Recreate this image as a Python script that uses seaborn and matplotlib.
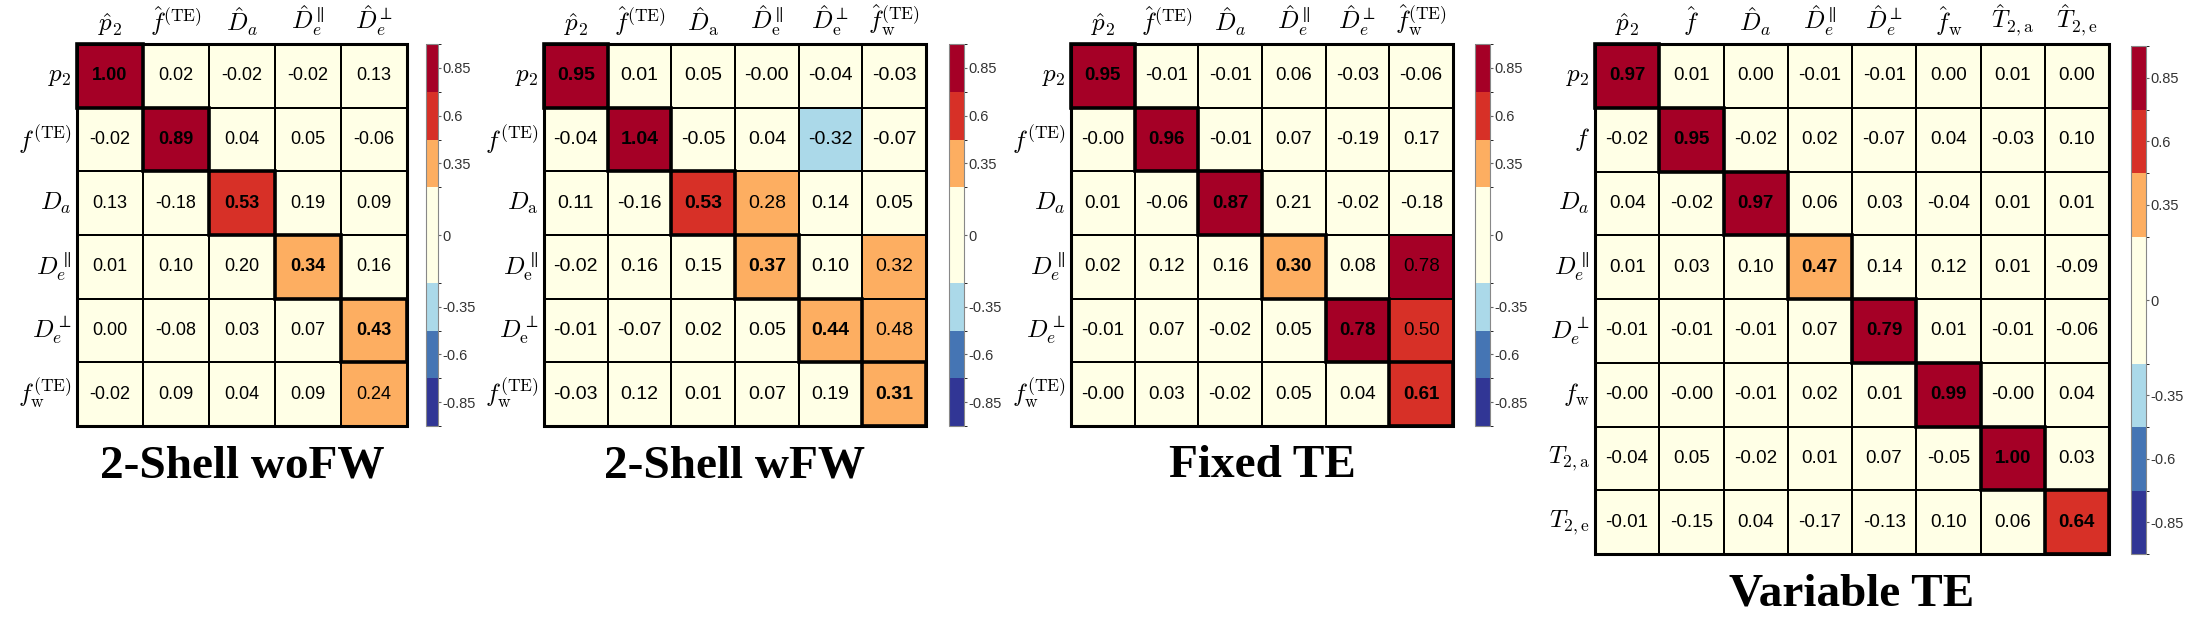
import numpy as np
import pandas as pd
import matplotlib
matplotlib.use("Agg")
import matplotlib.pyplot as plt
from matplotlib.colors import ListedColormap, BoundaryNorm
from matplotlib.patches import Rectangle
import seaborn as sns

# ---------------- data ----------------
titles = ["2-Shell woFW", "2-Shell wFW", "Fixed TE", "Variable TE"]

woFW_rows = [r"$p_2$", r"$f^{(\mathrm{TE})}$", r"$D_a$", r"$D_e^{\parallel}$",
             r"$D_e^{\perp}$", r"$f_\mathrm{w}^{(\mathrm{TE})}$"]
woFW_cols = [r"$\hat{p}_2$", r"$\hat{f}^{(\mathrm{TE})}$", r"$\hat{D}_a$",
             r"$\hat{D}_e^{\parallel}$", r"$\hat{D}_e^{\perp}$"]
woFW_vals = [
    [1.00, 0.02, -0.02, -0.02, 0.13],
    [-0.02, 0.89, 0.04, 0.05, -0.06],
    [0.13, -0.18, 0.53, 0.19, 0.09],
    [0.01, 0.10, 0.20, 0.34, 0.16],
    [0.00, -0.08, 0.03, 0.07, 0.43],
    [-0.02, 0.09, 0.04, 0.09, 0.24],
]

wFW_rows = [r"$p_2$", r"$f^{(\mathrm{TE})}$", r"$D_\mathrm{a}$", r"$D_\mathrm{e}^{\parallel}$",
            r"$D_\mathrm{e}^{\perp}$", r"$f_\mathrm{w}^{(\mathrm{TE})}$"]
wFW_cols = [r"$\hat{p}_2$", r"$\hat{f}^{(\mathrm{TE})}$", r"$\hat{D}_\mathrm{a}$",
            r"$\hat{D}_\mathrm{e}^{\parallel}$", r"$\hat{D}_\mathrm{e}^{\perp}$",
            r"$\hat{f}_\mathrm{w}^{(\mathrm{TE})}$"]
wFW_vals = [
    [0.95, 0.01, 0.05, -0.00, -0.04, -0.03],
    [-0.04, 1.04, -0.05, 0.04, -0.32, -0.07],
    [0.11, -0.16, 0.53, 0.28, 0.14, 0.05],
    [-0.02, 0.16, 0.15, 0.37, 0.10, 0.32],
    [-0.01, -0.07, 0.02, 0.05, 0.44, 0.48],
    [-0.03, 0.12, 0.01, 0.07, 0.19, 0.31],
]

fixed_rows = [r"$p_2$", r"$f^{(\mathrm{TE})}$", r"$D_a$", r"$D_e^{\parallel}$",
              r"$D_e^{\perp}$", r"$f_\mathrm{w}^{(\mathrm{TE})}$"]
fixed_cols = [r"$\hat{p}_2$", r"$\hat{f}^{(\mathrm{TE})}$", r"$\hat{D}_a$",
              r"$\hat{D}_e^{\parallel}$", r"$\hat{D}_e^{\perp}$",
              r"$\hat{f}_\mathrm{w}^{(\mathrm{TE})}$"]
fixed_vals = [
    [0.95, -0.01, -0.01, 0.06, -0.03, -0.06],
    [-0.00, 0.96, -0.01, 0.07, -0.19, 0.17],
    [0.01, -0.06, 0.87, 0.21, -0.02, -0.18],
    [0.02, 0.12, 0.16, 0.30, 0.08, 0.78],
    [-0.01, 0.07, -0.02, 0.05, 0.78, 0.50],
    [-0.00, 0.03, -0.02, 0.05, 0.04, 0.61],
]

var_rows = [r"$p_2$", r"$f$", r"$D_a$", r"$D_e^{\parallel}$", r"$D_e^{\perp}$",
            r"$f_\mathrm{w}$", r"$T_{2,\mathrm{a}}$", r"$T_{2,\mathrm{e}}$"]
var_cols = [r"$\hat{p}_2$", r"$\hat{f}$", r"$\hat{D}_a$", r"$\hat{D}_e^{\parallel}$",
            r"$\hat{D}_e^{\perp}$", r"$\hat{f}_\mathrm{w}$", r"$\hat{T}_{2,\mathrm{a}}$",
            r"$\hat{T}_{2,\mathrm{e}}$"]
var_vals = [
    [0.97, 0.01, 0.00, -0.01, -0.01, 0.00, 0.01, 0.00],
    [-0.02, 0.95, -0.02, 0.02, -0.07, 0.04, -0.03, 0.10],
    [0.04, -0.02, 0.97, 0.06, 0.03, -0.04, 0.01, 0.01],
    [0.01, 0.03, 0.10, 0.47, 0.14, 0.12, 0.01, -0.09],
    [-0.01, -0.01, -0.01, 0.07, 0.79, 0.01, -0.01, -0.06],
    [-0.00, -0.00, -0.01, 0.02, 0.01, 0.99, -0.00, 0.04],
    [-0.04, 0.05, -0.02, 0.01, 0.07, -0.05, 1.00, 0.03],
    [-0.01, -0.15, 0.04, -0.17, -0.13, 0.10, 0.06, 0.64],
]

cbar_tick_labels = ["-0.85", "-0.6", "-0.35", "0", "0.35", "0.6", "0.85"]

# ---------------- style ----------------
bin_edges = [-1.1, -0.75, -0.5, -0.235, 0.0, 0.235, 0.49, 0.75, 1.1]
bin_colors = ["#313695", "#4575B4", "#ABD9E9", "#FFFFE6", "#FFFFE6",
              "#FDAE61", "#D73027", "#A50026"]
cmap = ListedColormap(bin_colors)
norm = BoundaryNorm(bin_edges, cmap.N)
mids = [(bin_edges[i] + bin_edges[i + 1]) / 2 for i in range(len(bin_edges) - 1)]
cbar_ticks = mids[:3] + [bin_edges[4]] + mids[5:]

plt.rcParams["font.family"] = ["Liberation Sans", "DejaVu Sans"]
plt.rcParams["mathtext.fontset"] = "cm"

W, H = 2185, 621
fig = plt.figure(figsize=(W / 100, H / 100), dpi=100)


def box(x0, y0, x1, y1):
    return [x0 / W, 1 - y1 / H, (x1 - x0) / W, (y1 - y0) / H]


panels = [
    (titles[0], woFW_rows, woFW_cols, woFW_vals, (77, 44, 407, 426), (426, 44, 438, 426), 13),
    (titles[1], wFW_rows, wFW_cols, wFW_vals, (544, 44, 926, 426), (949, 44, 964, 426), 14),
    (titles[2], fixed_rows, fixed_cols, fixed_vals, (1071, 44, 1453, 426), (1475, 44, 1490, 426), 13.5),
    (titles[3], var_rows, var_cols, var_vals, (1595, 44, 2109, 554), (2131, 46, 2146, 554), 13.5),
]

for title, rows, cols, vals, gbox, cbox, fs in panels:
    ax = fig.add_axes(box(*gbox))
    cax = fig.add_axes(box(*cbox))
    df = pd.DataFrame(np.array(vals, dtype=float), index=rows, columns=cols)
    sns.heatmap(df, ax=ax, cbar_ax=cax, cmap=cmap, norm=norm, annot=True, fmt=".2f",
                annot_kws={"color": "black", "fontsize": fs, "family": "Liberation Sans"},
                linewidths=1.4, linecolor="black", square=False)
    nr, nc = df.shape
    for t in ax.texts:
        x, y = t.get_position()
        if int(x) == int(y):
            t.set_fontweight("bold")
    for i in range(min(nr, nc)):
        ax.add_patch(Rectangle((i, i), 1, 1, fill=False, ec="black", lw=2.6,
                               clip_on=False, zorder=5))
    ax.add_patch(Rectangle((0, 0), nc, nr, fill=False, ec="black", lw=2.2,
                           clip_on=False, zorder=4))
    ax.xaxis.tick_top()
    ax.set_xticklabels(cols, rotation=0, fontsize=18)
    ax.set_yticklabels(rows, rotation=0, fontsize=18)
    ax.tick_params(axis="both", length=0, pad=4)
    ax.set_xlabel("")
    ax.set_ylabel("")

    cb = ax.collections[0].colorbar
    cb.outline.set_linewidth(0.8)
    cb.outline.set_edgecolor("#888888")
    cb.set_ticks(cbar_ticks)
    cb.set_ticklabels(cbar_tick_labels)
    cax.tick_params(length=2.5, width=0.8, color="#666666", labelsize=10.5,
                    labelcolor="#333333", pad=0.5)

    cx = (gbox[0] + gbox[2]) / 2
    fig.text(cx / W, 1 - (gbox[3] + 51) / H, title, ha="center", va="baseline",
             fontsize=34, fontweight="bold", family=["Liberation Serif", "DejaVu Serif"])

fig.savefig("out.png", dpi=100)
